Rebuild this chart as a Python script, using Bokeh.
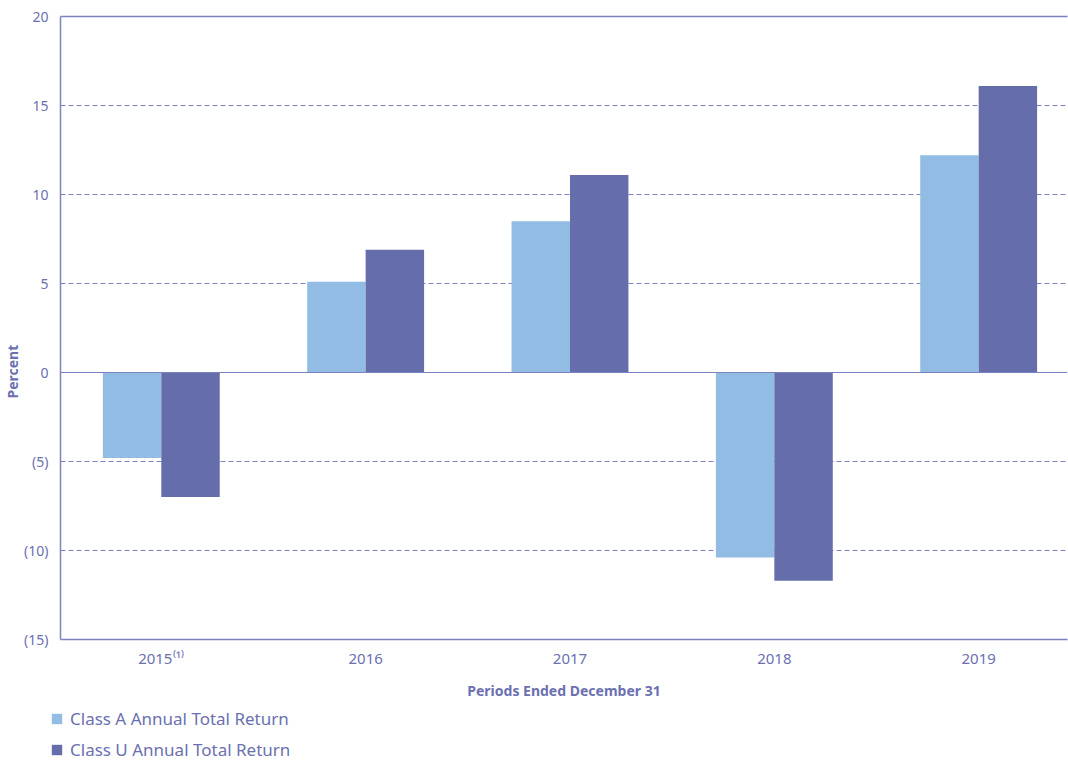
from bokeh.plotting import figure
from bokeh.layouts import column
from bokeh.models import ColumnDataSource, Legend, LegendItem, LinearAxis, Span, FixedTicker, Range1d, Title
from bokeh.embed import file_html
from bokeh.resources import INLINE

years = ["2015\u207d\u00b9\u207e", "2016", "2017", "2018", "2019"]
class_a = [-4.8, 5.1, 8.5, -10.4, 12.2]
class_u = [-7.0, 6.9, 11.1, -11.7, 16.1]
y_ticks = [-15, -10, -5, 0, 5, 10, 15, 20]
series_labels = ["Class A Annual Total Return", "Class U Annual Total Return"]

FONT = "Noto Sans"
TXT = "#6B70B0"
LINE = "#7C82C0"
C_A = "#92BCE3"
C_U = "#656DAB"

xs = list(range(len(years)))
bw = 0.286
src = ColumnDataSource(dict(x=xs, xa=[x - bw / 2 for x in xs], xu=[x + bw / 2 for x in xs], a=class_a, u=class_u))

p = figure(width=1068, height=705, output_backend="svg", toolbar_location=None,
           x_range=Range1d(-0.4933, 4.4347), y_range=Range1d(-15, 20),
           min_border_left=58, min_border_right=1, min_border_top=16, min_border_bottom=66)
p.background_fill_color = "white"
p.border_fill_color = "white"
p.outline_line_color = None
p.frame_align = False

ra = p.vbar(x="xa", top="a", bottom=0, width=bw, source=src, fill_color=C_A, line_color=None)
ru = p.vbar(x="xu", top="u", bottom=0, width=bw, source=src, fill_color=C_U, line_color=None)

p.add_layout(Span(location=0, dimension="width", line_color=LINE, line_width=1.2))

p.xgrid.visible = False
p.ygrid.ticker = FixedTicker(ticks=y_ticks)
p.ygrid.grid_line_color = LINE
p.ygrid.grid_line_dash = "5 3"
p.ygrid.grid_line_width = 1.1

yax = p.yaxis[0]
yax.ticker = FixedTicker(ticks=y_ticks)
yax.major_label_overrides = {t: (f"({abs(t)})" if t < 0 else str(t)) for t in y_ticks}
yax.major_tick_line_color = None
yax.minor_tick_line_color = None
yax.axis_line_color = LINE
yax.axis_line_width = 1.5
yax.major_label_text_font = FONT
yax.major_label_text_font_size = "14px"
yax.major_label_text_color = TXT
yax.major_label_standoff = 6

p.add_layout(Title(text="Percent", align="left", offset=241, standoff=0,
                   text_font=FONT, text_font_style="bold", text_font_size="14px",
                   text_color=TXT), "left")

xax = p.xaxis[0]
xax.ticker = FixedTicker(ticks=xs)
xax.major_label_overrides = {i: y for i, y in enumerate(years)}
xax.major_tick_line_color = None
xax.minor_tick_line_color = None
xax.axis_line_color = LINE
xax.axis_line_width = 1.5
xax.major_label_text_font = FONT
xax.major_label_text_font_size = "15px"
xax.major_label_text_color = TXT
xax.major_label_standoff = 2
xax.axis_label = "Periods Ended December 31"
xax.axis_label_text_font = FONT
xax.axis_label_text_font_style = "bold"
xax.axis_label_text_font_size = "14px"
xax.axis_label_text_color = TXT
xax.axis_label_standoff = 10

top_ax = LinearAxis(ticker=FixedTicker(ticks=[]), axis_line_color=LINE, axis_line_width=1.5,
                    major_tick_line_color=None, minor_tick_line_color=None,
                    major_label_text_font_size="0px")
p.add_layout(top_ax, "above")

# legend strip below the chart
lf = figure(width=1068, height=56, output_backend="svg", toolbar_location=None,
            x_axis_type=None, y_axis_type=None,
            x_range=Range1d(0, 1), y_range=Range1d(0, 1),
            min_border_left=0, min_border_right=0, min_border_top=0, min_border_bottom=0)
lf.frame_align = False
lf.grid.visible = False
lf.outline_line_color = None
lf.background_fill_color = "white"
lf.border_fill_color = "white"
dummy = ColumnDataSource(dict(x=[0.5], top=[0]))
la = lf.vbar(x="x", top="top", bottom=0, width=0.0, source=dummy, fill_color=C_A, line_color=None)
lu = lf.vbar(x="x", top="top", bottom=0, width=0.0, source=dummy, fill_color=C_U, line_color=None)
legend = Legend(items=[LegendItem(label=series_labels[0], renderers=[la]),
                       LegendItem(label=series_labels[1], renderers=[lu])],
                location=(50, 0), orientation="vertical",
                glyph_width=13, glyph_height=13, label_height=18, spacing=8,
                label_standoff=7, padding=0, margin=0,
                label_text_font=FONT, label_text_font_size="17px", label_text_color=TXT,
                border_line_color=None, background_fill_alpha=0)
lf.add_layout(legend, "center")

open("out.html", "w").write(file_html(column(p, lf, spacing=0), INLINE))
